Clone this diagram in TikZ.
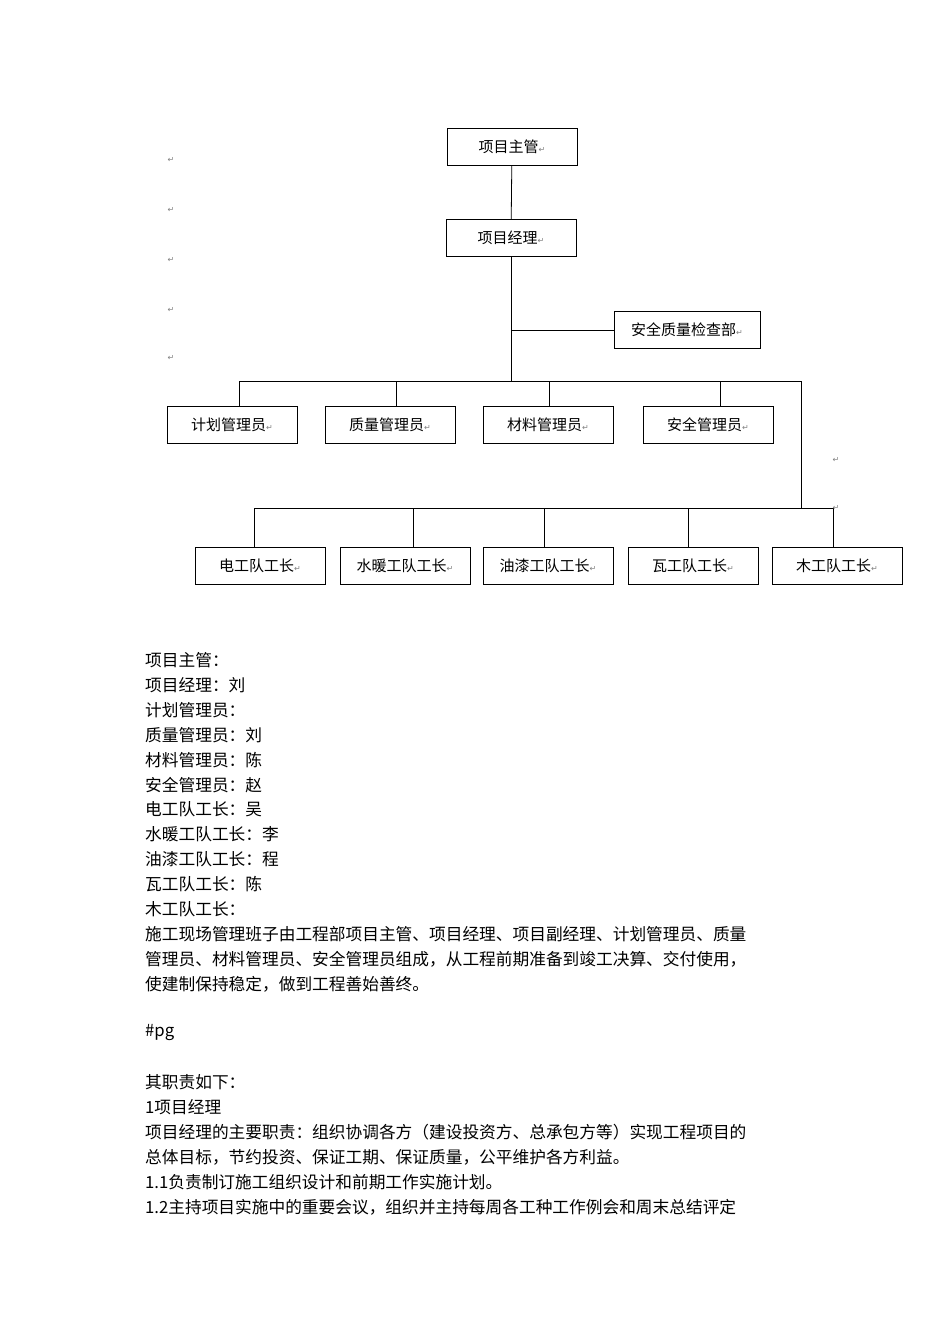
\documentclass[tikz,border=0pt]{standalone}
\usepackage{fontspec}
\newfontfamily\cjk{Noto Sans CJK SC}
\newfontfamily\dv{DejaVu Sans}
\newcommand{\rt}{{\dv\fontsize{8}{8}\selectfont\textcolor{gray}{↵}}}
\begin{document}
\begin{tikzpicture}[x=1pt,y=-1pt,
  box/.style={draw,thick,minimum width=130pt,minimum height=37pt,inner sep=0pt,font=\cjk\fontsize{15}{15}\selectfont},
  ln/.style={thick},
  txt/.style={anchor=west,inner sep=0pt,font=\cjk\fontsize{16.7}{16.7}\selectfont}]
\useasboundingbox (0,0) rectangle (950,1344);
\node[box] (zg) at (512,147) {项目主管\rt};
\node[box] (jl) at (511,238) {项目经理\rt};
\node[box,minimum width=146pt] (aq) at (687,330) {安全质量检查部\rt};
\node[box] (b1) at (232,425) {计划管理员\rt};
\node[box] (b2) at (390,425) {质量管理员\rt};
\node[box] (b3) at (548,425) {材料管理员\rt};
\node[box] (b4) at (708,425) {安全管理员\rt};
\node[box] (c1) at (260,566) {电工队工长\rt};
\node[box] (c2) at (405,566) {水暖工队工长\rt};
\node[box] (c3) at (548,566) {油漆工队工长\rt};
\node[box] (c4) at (693,566) {瓦工队工长\rt};
\node[box] (c5) at (837,566) {木工队工长\rt};
\coordinate (bus) at (511,381);
\coordinate (tap) at (511,330);
\coordinate (r1) at (801,381);
\coordinate (r2) at (801,508);
\draw[ln] (zg) -- (jl);
\draw[ln] (jl) -- (bus);
\draw[ln] (tap) -- (aq);
\draw[ln] (239,381) -- (r1) -- (r2);
\draw[ln] (254,508) -- (833,508);
\foreach \n/\x in {b1/239,b2/396,b3/549,b4/720}{\draw[ln] (\x,381) -- (\x,407);}
\foreach \n/\x in {c1/254,c2/413,c3/544,c4/688,c5/833}{\draw[ln] (\x,508) -- (\x,548);}
\foreach \y in {160,210,260,310,358}{\node at (171,\y) {\rt};}
\node at (836,460) {\rt};
\node at (836,508) {\rt};
\node[txt] (t1) at (145,660) {项目主管：};
\node[txt] (t2) at (145,685) {项目经理：刘};
\node[txt] (t3) at (145,710) {计划管理员：};
\node[txt] (t4) at (145,735) {质量管理员：刘};
\node[txt] (t5) at (145,760) {材料管理员：陈};
\node[txt] (t6) at (145,785) {安全管理员：赵};
\node[txt] (t7) at (145,809) {电工队工长：吴};
\node[txt] (t8) at (145,834) {水暖工队工长：李};
\node[txt] (t9) at (145,859) {油漆工队工长：程};
\node[txt] (t10) at (145,884) {瓦工队工长：陈};
\node[txt] (t11) at (145,909) {木工队工长：};
\node[txt] (t12) at (145,934) {施工现场管理班子由工程部项目主管、项目经理、项目副经理、计划管理员、质量};
\node[txt] (t13) at (145,959) {管理员、材料管理员、安全管理员组成，从工程前期准备到竣工决算、交付使用，};
\node[txt] (t14) at (145,984) {使建制保持稳定，做到工程善始善终。};
\node[txt] (t15) at (145,1033) {\#pg};
\node[txt] (t16) at (145,1082) {其职责如下：};
\node[txt] (t17) at (145,1107) {1项目经理};
\node[txt] (t18) at (145,1132) {项目经理的主要职责：组织协调各方（建设投资方、总承包方等）实现工程项目的};
\node[txt] (t19) at (145,1157) {总体目标，节约投资、保证工期、保证质量，公平维护各方利益。};
\node[txt] (t20) at (145,1182) {1.1负责制订施工组织设计和前期工作实施计划。};
\node[txt] (t21) at (145,1207) {1.2主持项目实施中的重要会议，组织并主持每周各工种工作例会和周末总结评定};
\end{tikzpicture}
\end{document}
